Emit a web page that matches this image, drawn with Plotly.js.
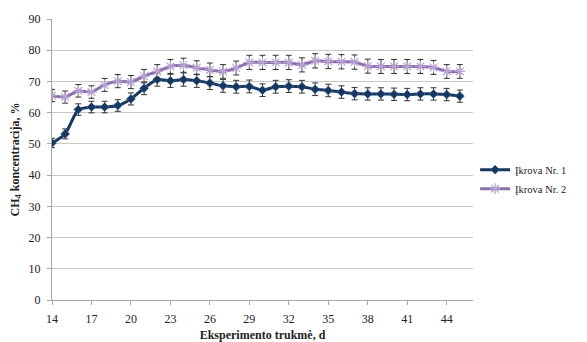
<!DOCTYPE html>
<html>
<head>
<meta charset="utf-8">
<script src="https://cdn.plot.ly/plotly-3.0.1.min.js"></script>
<style>html,body{margin:0;padding:0;background:#fff;}#chart{width:587px;height:342px;}</style>
</head>
<body>
<div id="chart"></div>
<script>
const days = [14,15,16,17,18,19,20,21,22,23,24,25,26,27,28,29,30,31,32,33,34,35,36,37,38,39,40,41,42,43,44,45];
const ikrova1 = [50.3,53.2,61.0,61.8,61.8,62.3,64.4,67.8,70.6,70.2,70.6,70.2,69.5,68.6,68.3,68.4,67.2,68.3,68.5,68.3,67.5,67.1,66.6,66.1,66.0,66.0,65.9,65.8,66.0,66.0,65.8,65.3];
const ikrova2 = [65.5,65.0,67.0,66.6,68.9,70.1,69.8,71.7,73.2,74.8,75.2,74.4,73.7,73.2,74.3,76.1,76.1,76.1,76.1,75.3,76.6,76.4,76.3,76.2,74.9,74.8,74.8,74.8,74.8,74.5,73.2,73.2];
const seriesNames = ["Įkrova Nr. 1", "Įkrova Nr. 2"];
const errorPercent = 3;
const yTitle = "<b>CH<sub>4</sub> koncentracija, %</b>";
const xTitle = "<b>Eksperimento trukmė, d</b>";

const serif = "Liberation Serif";
const font = {family: serif, color: "#222", size: 12};
const errStyle = {type: "percent", value: errorPercent, visible: true, color: "#333", thickness: 1, width: 3};

const traces = [
  {x: days, y: ikrova1, name: seriesNames[0], mode: "lines+markers", type: "scatter",
   line: {color: "#17375e", width: 3, shape: "spline", smoothing: 0.6},
   marker: {symbol: "diamond", size: 7, color: "#17375e", line: {color: "#4f81bd", width: 0.5}},
   error_y: errStyle},
  {x: days, y: ikrova2, name: seriesNames[1], mode: "lines+markers", type: "scatter",
   line: {color: "#8a6fad", width: 3, shape: "spline", smoothing: 0.6},
   marker: {symbol: "asterisk-open", size: 9, color: "#b9a3d3", line: {color: "#b9a3d3", width: 1.2}},
   error_y: errStyle}
];

const layout = {
  width: 587, height: 342,
  margin: {l: 52, r: 114, t: 19, b: 42},
  paper_bgcolor: "#fff", plot_bgcolor: "#fff",
  font: font,
  showlegend: true,
  legend: {x: 1.005, xanchor: "left", y: 0.43, yanchor: "middle", font: {family: serif, size: 10.5, color: "#222"}, itemwidth: 30, bgcolor: "rgba(0,0,0,0)"},
  xaxis: {type: "linear", range: [14, 46], tick0: 14, dtick: 3, showgrid: false, zeroline: false,
    showline: true, linecolor: "#a6a6a6", linewidth: 1, ticks: "outside", ticklen: 4, tickcolor: "#a6a6a6",
    ticklabelstandoff: 4,
    tickfont: font, title: {text: xTitle, font: {family: serif, size: 12, color: "#222"}, standoff: 5}},
  yaxis: {range: [0, 90], dtick: 10, showgrid: true, gridcolor: "#c8c8c8", gridwidth: 1, zeroline: false,
    showline: true, linecolor: "#a6a6a6", linewidth: 1, ticks: "outside", ticklen: 4, tickcolor: "#a6a6a6",
    ticklabelstandoff: 4,
    tickfont: font, title: {text: yTitle, font: {family: serif, size: 12, color: "#222"}, standoff: 6}}
};

Plotly.newPlot("chart", traces, layout, {displayModeBar: false, staticPlot: true});
</script>
</body>
</html>
